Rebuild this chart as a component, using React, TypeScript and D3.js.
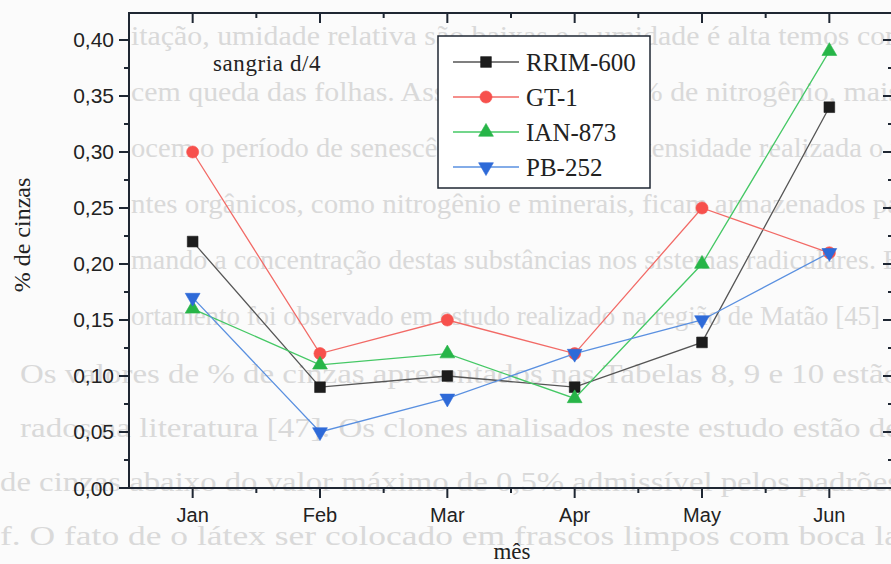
import React from "react";
import * as d3 from "d3";

// Ash content (% de cinzas) per clone, January to June
const months = ["Jan", "Feb", "Mar", "Apr", "May", "Jun"];
const rrim600 = [0.22, 0.09, 0.1, 0.09, 0.13, 0.34];
const gt1 = [0.3, 0.12, 0.15, 0.12, 0.25, 0.21];
const ian873 = [0.16, 0.11, 0.12, 0.08, 0.2, 0.39];
const pb252 = [0.17, 0.05, 0.08, 0.12, 0.15, 0.21];
const yTickValues = [0, 0.05, 0.1, 0.15, 0.2, 0.25, 0.3, 0.35, 0.4];
const yTickLabels = ["0,00", "0,05", "0,10", "0,15", "0,20", "0,25", "0,30", "0,35", "0,40"];

// Faint page text printed behind the figure
const pageLinesUpper = [
  "itação, umidade relativa são baixas e a umidade é alta temos con",
  "cem queda das folhas. Assim como para a % de nitrogênio, mais",
  "ocem o período de senescência portanto, a intensidade realizada o r",
  "ntes orgânicos, como nitrogênio e minerais, ficam armazenados pa",
  "mando a concentração destas substâncias nos sistemas radiculares. E",
  "ortamento foi observado em estudo realizado na região de Matão [45]",
];
const pageLinesLower = [
  "Os valores de % de cinzas apresentados nas Tabelas 8, 9 e 10 estão",
  "rados na literatura [47]. Os clones analisados neste estudo estão de",
  "de cinzas abaixo do valor máximo de 0,5% admissível pelos padrões",
  "f. O fato de o látex ser colocado em frascos limpos com boca la",
];

const W = 891;
const H = 564;
const left = 129;
const right = 893;
const top = 13;
const bottom = 488;

const AXIS = "#1f2733";
const SANS = "'Liberation Sans', Arial, sans-serif";
const SERIF = "'Liberation Serif', 'Times New Roman', serif";

type Series = {
  name: string;
  values: number[];
  line: string;
  fill: string;
  symbol: d3.SymbolType;
  size: number;
  flip?: boolean;
};

const series: Series[] = [
  { name: "RRIM-600", values: rrim600, line: "#555555", fill: "#1c1c1c", symbol: d3.symbolSquare, size: 115 },
  { name: "GT-1", values: gt1, line: "#f26a66", fill: "#f7504c", symbol: d3.symbolCircle, size: 115 },
  { name: "IAN-873", values: ian873, line: "#45c865", fill: "#27b548", symbol: d3.symbolTriangle, size: 95 },
  { name: "PB-252", values: pb252, line: "#5a90e0", fill: "#2e6ad8", symbol: d3.symbolTriangle, size: 95, flip: true },
];

export default function App() {
  const x = d3.scaleLinear().domain([0.5, 6.5]).range([left, right]);
  const y = d3.scaleLinear().domain([0, 0.4241]).range([bottom, top]);

  const majorX = d3.range(1, 7);
  const minorX = d3.range(1.5, 6.5, 1);
  const minorY = d3.range(0.025, 0.42, 0.05);

  const line = d3
    .line<number>()
    .x((_, i) => x(i + 1))
    .y((d) => y(d));

  const marker = (s: Series) => d3.symbol().type(s.symbol).size(s.size)() as string;

  const legendX = 438;
  const legendY = 36;
  const legendW = 212;
  const legendH = 152;
  const rowStep = 35;

  return (
    <svg
      width={W}
      height={H}
      viewBox={`0 0 ${W} ${H}`}
      style={{ position: "absolute", left: 0, top: 0, display: "block", background: "#fbfbfb" }}
    >
      {/* page text showing through */}
      <g fill="#d9d9d9" fontFamily={SERIF} fontSize={27}>
        {pageLinesUpper.map((t, i) => (
          <text
            key={"u" + i}
            x={131}
            y={45 + i * 56}
            textLength={i === 5 ? 749 : 769}
            lengthAdjust="spacingAndGlyphs"
          >
            {t}
          </text>
        ))}
        {pageLinesLower.map((t, i) => (
          <text
            key={"l" + i}
            x={i < 2 ? 20 : 0}
            y={383 + i * 54}
            textLength={i < 2 ? 880 : 900}
            lengthAdjust="spacingAndGlyphs"
          >
            {t}
          </text>
        ))}
      </g>

      {/* series */}
      {series.map((s) => (
        <g key={s.name}>
          <path d={line(s.values) as string} fill="none" stroke={s.line} strokeWidth={1.3} />
          {s.values.map((v, i) => (
            <path
              key={i}
              d={marker(s)}
              transform={`translate(${x(i + 1)},${y(v)})${s.flip ? " rotate(180)" : ""}`}
              fill={s.fill}
              stroke={s.fill}
              strokeWidth={0.6}
            />
          ))}
        </g>
      ))}

      {/* frame */}
      <g stroke={AXIS} strokeWidth={2} fill="none">
        <line x1={left} x2={left} y1={top} y2={bottom + 1} />
        <line x1={left - 1} x2={right} y1={bottom} y2={bottom} />
        <line x1={left - 1} x2={right} y1={top} y2={top} />
        <line x1={right} x2={right} y1={top} y2={bottom} />
        {majorX.map((m) => (
          <g key={"mx" + m}>
            <line x1={x(m)} x2={x(m)} y1={bottom} y2={bottom + 10} />
            <line x1={x(m)} x2={x(m)} y1={top} y2={top + 10} />
          </g>
        ))}
        {minorX.map((m) => (
          <g key={"nx" + m}>
            <line x1={x(m)} x2={x(m)} y1={bottom} y2={bottom + 5} />
            <line x1={x(m)} x2={x(m)} y1={top} y2={top + 5} />
          </g>
        ))}
        {yTickValues.map((v) => (
          <g key={"my" + v}>
            <line x1={left - 10} x2={left} y1={y(v)} y2={y(v)} />
            <line x1={right - 10} x2={right} y1={y(v)} y2={y(v)} />
          </g>
        ))}
        {minorY.map((v) => (
          <g key={"ny" + v}>
            <line x1={left - 5} x2={left} y1={y(v)} y2={y(v)} />
            <line x1={right - 5} x2={right} y1={y(v)} y2={y(v)} />
          </g>
        ))}
      </g>

      {/* tick labels */}
      <g fontFamily={SANS} fontSize={21} fill="#222">
        {yTickValues.map((v, i) => (
          <text key={"yl" + v} x={114} y={y(v) + 7.5} textAnchor="end">
            {yTickLabels[i]}
          </text>
        ))}
      </g>
      <g fontFamily={SANS} fontSize={20} fill="#222">
        {months.map((m, i) => (
          <text key={m} x={x(i + 1)} y={522} textAnchor="middle">
            {m}
          </text>
        ))}
      </g>

      {/* axis titles */}
      <text
        transform={`translate(30,235) rotate(-90)`}
        textAnchor="middle"
        fontFamily={SERIF}
        fontSize={24}
        fill="#222"
      >
        % de cinzas
      </text>
      <text x={512} y={559} textAnchor="middle" fontFamily={SERIF} fontSize={23} fill="#222">
        mês
      </text>
      <text x={213} y={71} fontFamily={SERIF} fontSize={23} fill="#222" letterSpacing={0.6}>
        sangria d/4
      </text>

      {/* legend */}
      <g>
        <rect x={legendX} y={legendY} width={legendW} height={legendH} fill="#ffffff" stroke={AXIS} strokeWidth={1.5} />
        {series.map((s, i) => {
          const cy = legendY + 26 + i * rowStep;
          return (
            <g key={"lg" + s.name}>
              <line x1={453} x2={519} y1={cy} y2={cy} stroke={s.line} strokeWidth={1.3} />
              <path
                d={marker(s)}
                transform={`translate(486,${cy})${s.flip ? " rotate(180)" : ""}`}
                fill={s.fill}
                stroke={s.fill}
                strokeWidth={0.6}
              />
              <text x={526} y={cy + 8.5} fontFamily={SERIF} fontSize={25} fill="#222">
                {s.name}
              </text>
            </g>
          );
        })}
      </g>
    </svg>
  );
}
